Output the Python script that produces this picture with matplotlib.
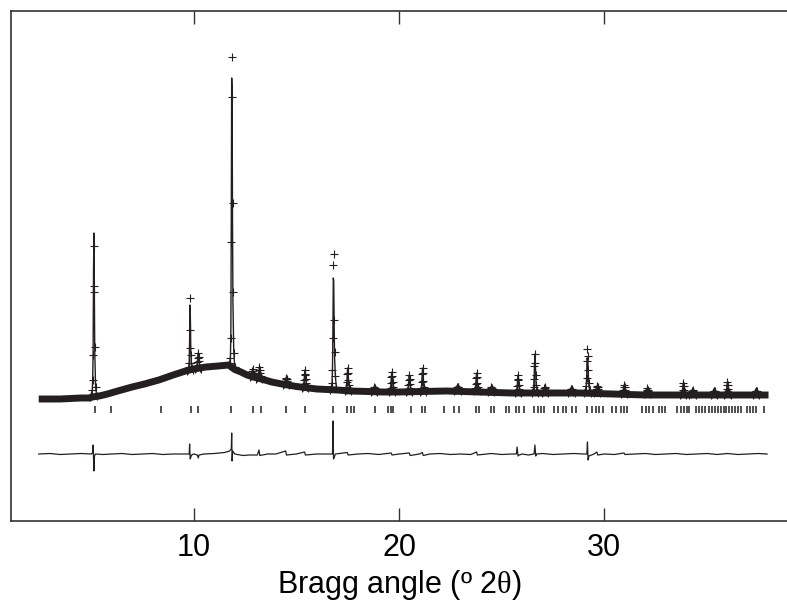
import numpy as np
import matplotlib
matplotlib.use("Agg")
import matplotlib.pyplot as plt

plt.rcParams['font.family'] = ['Liberation Sans', 'DejaVu Sans']
plt.rcParams['mathtext.fontset'] = 'custom'
plt.rcParams['mathtext.rm'] = 'Liberation Serif'

# ---- data ----
# background / dense observed band (2theta, intensity)
bg_x = [2.45, 3.5, 4.5, 4.95, 5.05, 5.4, 5.8, 6.3, 7.0, 7.6, 8.3, 9.0, 9.6, 10.0, 10.6,
        11.2, 11.7, 11.9, 12.0, 12.3, 12.6, 12.9, 13.3, 13.8, 14.3, 15.0, 16.0, 17.0,
        17.6, 18.5, 19.2, 20.0, 22.3, 25.5, 28.8, 32.0, 35.3, 38.0]
bg_y = [122, 122, 123, 123, 124, 125, 127, 130, 134, 137, 141, 146, 150, 152, 154,
        155, 156, 153, 151.5, 149, 146, 144, 142, 139, 137, 134.5, 132, 131,
        130, 129.5, 129, 129, 130, 128, 128, 126, 126, 126]

# sampling offsets of the observed points across each peak (degrees)
peak_offsets = [-0.15, -0.10, -0.06, -0.04, -0.02, 0.0, 0.02, 0.04, 0.06, 0.10, 0.15]
peak_centers = [5.12, 9.82, 10.22, 11.85, 12.87, 13.2, 14.5, 15.42, 16.8, 17.5, 18.8,
                19.65, 20.5, 21.15, 22.85, 23.78, 24.5, 25.8, 26.62, 27.1, 28.4, 29.18,
                29.66, 30.97, 32.1, 33.85, 34.3, 35.35, 36.0, 37.4]
peak_obs = [
    [124, 126, 131, 141, 166, 229, 275, 235, 174, 134, 125],
    [150, 151, 154, 158, 173, 223, 191, 166, 158, 153, 151],
    [152, 153, 155, 159, 163, 168, 164, 160, 156, 153, 152],
    [156, 158, 163, 183, 279, 464, 424, 318, 229, 168, 154],
    [144, 145, 146, 148, 150, 152, 150, 148, 146, 145, 144],
    [142, 143, 145, 148, 151, 154, 151, 148, 145, 143, 142],
    [136, 137, 138, 140, 142, 143, 142, 140, 138, 137, 136],
    [133, 134, 137, 141, 146, 151, 147, 142, 138, 134, 133],
    [131, 133, 138, 151, 183, 256, 267, 201, 169, 145, 133],
    [130, 131, 134, 139, 147, 153, 148, 141, 136, 132, 130],
    [129, 130, 131, 132, 133, 134, 133, 132, 131, 130, 129],
    [129, 130, 133, 138, 144, 149, 145, 139, 134, 131, 129],
    [129, 130, 132, 136, 141, 146, 142, 137, 133, 130, 129],
    [129, 130, 133, 139, 147, 153, 148, 140, 134, 131, 129],
    [130, 131, 132, 133, 134, 134, 134, 133, 132, 131, 130],
    [130, 131, 133, 137, 143, 148, 144, 138, 134, 131, 130],
    [129, 130, 131, 132, 133, 134, 133, 132, 131, 130, 129],
    [128, 129, 131, 135, 141, 146, 142, 136, 132, 129, 128],
    [128, 130, 134, 142, 155, 167, 158, 146, 136, 131, 128],
    [128, 129, 130, 131, 133, 134, 133, 131, 130, 129, 128],
    [128, 129, 130, 131, 132, 132, 132, 131, 130, 129, 128],
    [128, 130, 135, 143, 160, 172, 165, 151, 138, 131, 128],
    [128, 129, 130, 132, 134, 135, 134, 132, 130, 129, 128],
    [127, 128, 129, 131, 134, 136, 134, 131, 129, 128, 127],
    [127, 128, 129, 130, 131, 133, 131, 130, 129, 128, 127],
    [126, 127, 129, 131, 135, 138, 135, 131, 129, 127, 126],
    [126, 127, 128, 129, 130, 131, 130, 129, 128, 127, 126],
    [126, 127, 128, 129, 130, 130, 130, 129, 128, 127, 126],
    [126, 127, 129, 132, 136, 139, 136, 132, 129, 127, 126],
    [126, 127, 128, 129, 130, 130, 130, 129, 128, 127, 126],
]
# calculated profile where it differs from the observed one (peak index -> values)
calc_override = {
    0: [124, 126, 131, 142, 170, 250, 288, 230, 170, 134, 125],
    1: [150, 151, 154, 159, 180, 216, 200, 168, 157, 153, 151],
    3: [156, 158, 165, 190, 300, 443, 430, 300, 220, 170, 154],
    8: [131, 133, 139, 152, 190, 243, 240, 200, 165, 145, 133],
    21: [128, 130, 135, 145, 163, 162, 160, 148, 137, 131, 128],
}

# Bragg reflection positions (2theta)
refl_pos = [5.18, 5.95, 8.39, 9.85, 10.23, 11.83, 12.89, 13.29, 14.51, 15.40, 16.78,
            17.49, 17.67, 17.83, 18.81, 19.44, 19.62, 19.73, 20.59, 21.14, 21.29, 22.21,
            22.70, 22.94, 23.76, 23.88, 24.49, 24.65, 25.22, 25.34, 25.70, 25.86, 26.11,
            26.59, 26.75, 26.92, 27.08, 27.57, 27.73, 27.97, 28.14, 28.44, 28.62, 29.17,
            29.42, 29.60, 29.76, 29.92, 30.39, 30.57, 30.81, 30.97, 31.13, 31.85, 32.03,
            32.19, 32.35, 32.68, 32.82, 32.97, 33.55, 33.73, 33.89, 34.01, 34.14, 34.48,
            34.62, 34.77, 34.91, 35.11, 35.26, 35.40, 35.55, 35.69, 35.84, 35.94, 36.08,
            36.23, 36.37, 36.52, 36.67, 36.96, 37.10, 37.25, 37.40, 37.79]
refl_low, refl_high = 108, 115

# difference curve (obs - calc, shifted)
diff_x = [2.45, 3.0, 3.5, 4.0, 4.5, 5.0, 5.08, 5.10, 5.12, 5.14, 5.16, 5.2, 5.6, 6.0, 6.5,
          7.0, 7.5, 8.0, 8.5, 9.0, 9.5, 9.78, 9.80, 9.83, 9.86, 9.9, 10.0, 10.18, 10.22,
          10.26, 10.5, 11.0, 11.5, 11.75, 11.83, 11.85, 11.87, 11.9, 12.0, 12.4, 12.7,
          13.1, 13.18, 13.22, 13.6, 14.0, 14.48, 14.52, 15.0, 15.4, 15.44, 16.0, 16.5,
          16.76, 16.79, 16.81, 16.85, 16.9, 17.48, 17.52, 18.0, 18.5, 19.0, 19.62, 19.66,
          20.0, 20.5, 20.54, 21.0, 21.14, 21.18, 21.5, 22.0, 22.5, 23.0, 23.5, 23.78, 23.82,
          24.5, 25.0, 25.5, 25.72, 25.75, 25.8, 25.85, 26.0, 26.3, 26.58, 26.62, 26.66,
          26.7, 27.0, 27.5, 28.0, 28.5, 29.0, 29.15, 29.18, 29.21, 29.25, 29.5, 29.64,
          29.68, 30.0, 30.5, 30.96, 31.0, 31.5, 32.0, 32.5, 33.0, 33.5, 34.0, 34.5, 35.0,
          35.5, 36.0, 36.5, 37.0, 37.5, 37.93]
diff_y = [67, 67.5, 66.5, 67, 67.5, 67, 68, 76, 62, 50, 64, 67, 66.5, 67, 67.5,
          66.5, 67, 67.5, 66.5, 67, 67, 67, 77, 62, 64, 66, 67, 66, 63,
          66, 67, 67.5, 68.5, 70, 72, 88, 60, 70, 67, 65.5, 66,
          66, 71, 65.5, 67, 67, 70, 66, 67, 69, 66, 67, 67,
          67, 100, 62, 64, 67, 68.5, 66, 67, 67.5, 66.5, 68, 66,
          67, 68, 65.5, 67, 68.5, 65.5, 67, 67.5, 66.5, 67, 66.5, 69, 66,
          67.5, 66.5, 67, 67, 74, 65, 66, 67, 66, 67, 76, 65,
          67, 67.5, 66.5, 67, 67.5, 67, 67, 79, 61, 65, 67, 69,
          66, 67, 66.5, 68, 66.5, 67, 67.5, 66.5, 67, 67.5, 66.5, 67, 67.5,
          66.5, 67.5, 66.5, 67, 67.5, 67]

x_ticks = [10, 20, 30]
x_label = 'Bragg angle (º 2$\\mathrm{θ}$)'

# ---- figure ----
fig = plt.figure(figsize=(7.87, 6.03), dpi=100)
ax = fig.add_axes([11 / 787, 82 / 603, 776 / 787, 510 / 603])
ink = '#231f20'

# dense observed band (overlapping + markers in the original)
ax.plot(bg_x, bg_y, color=ink, lw=5.0, solid_capstyle='butt', solid_joinstyle='round', zorder=2)

off = np.array(peak_offsets)
for i, (c, obs) in enumerate(zip(peak_centers, peak_obs)):
    px = c + off
    calc = calc_override.get(i, obs)
    ax.plot(px, calc, color=ink, lw=1.0, zorder=3)
    ax.plot(px, obs, linestyle='none', marker='+', markersize=5.5, mew=0.8, color=ink, zorder=4)

ax.vlines(refl_pos, refl_low, refl_high, color=ink, lw=1.1, zorder=2)
ax.plot(diff_x, diff_y, color=ink, lw=0.9, zorder=2)

ax.set_xlim(1.1, 38.9)
ax.set_ylim(0, 510)
ax.set_yticks([])
ax.set_xticks(x_ticks)
ax.tick_params(axis='x', direction='in', length=9.5, width=1.0, color='#333333',
               top=True, labeltop=False, labelsize=22, pad=9)
for side in ['left', 'bottom', 'top']:
    ax.spines[side].set_color('#333333')
    ax.spines[side].set_linewidth(1.2)
ax.spines['right'].set_visible(False)
ax.set_xlabel(x_label, fontsize=22, labelpad=3)

fig.savefig('out.png', dpi=100)
